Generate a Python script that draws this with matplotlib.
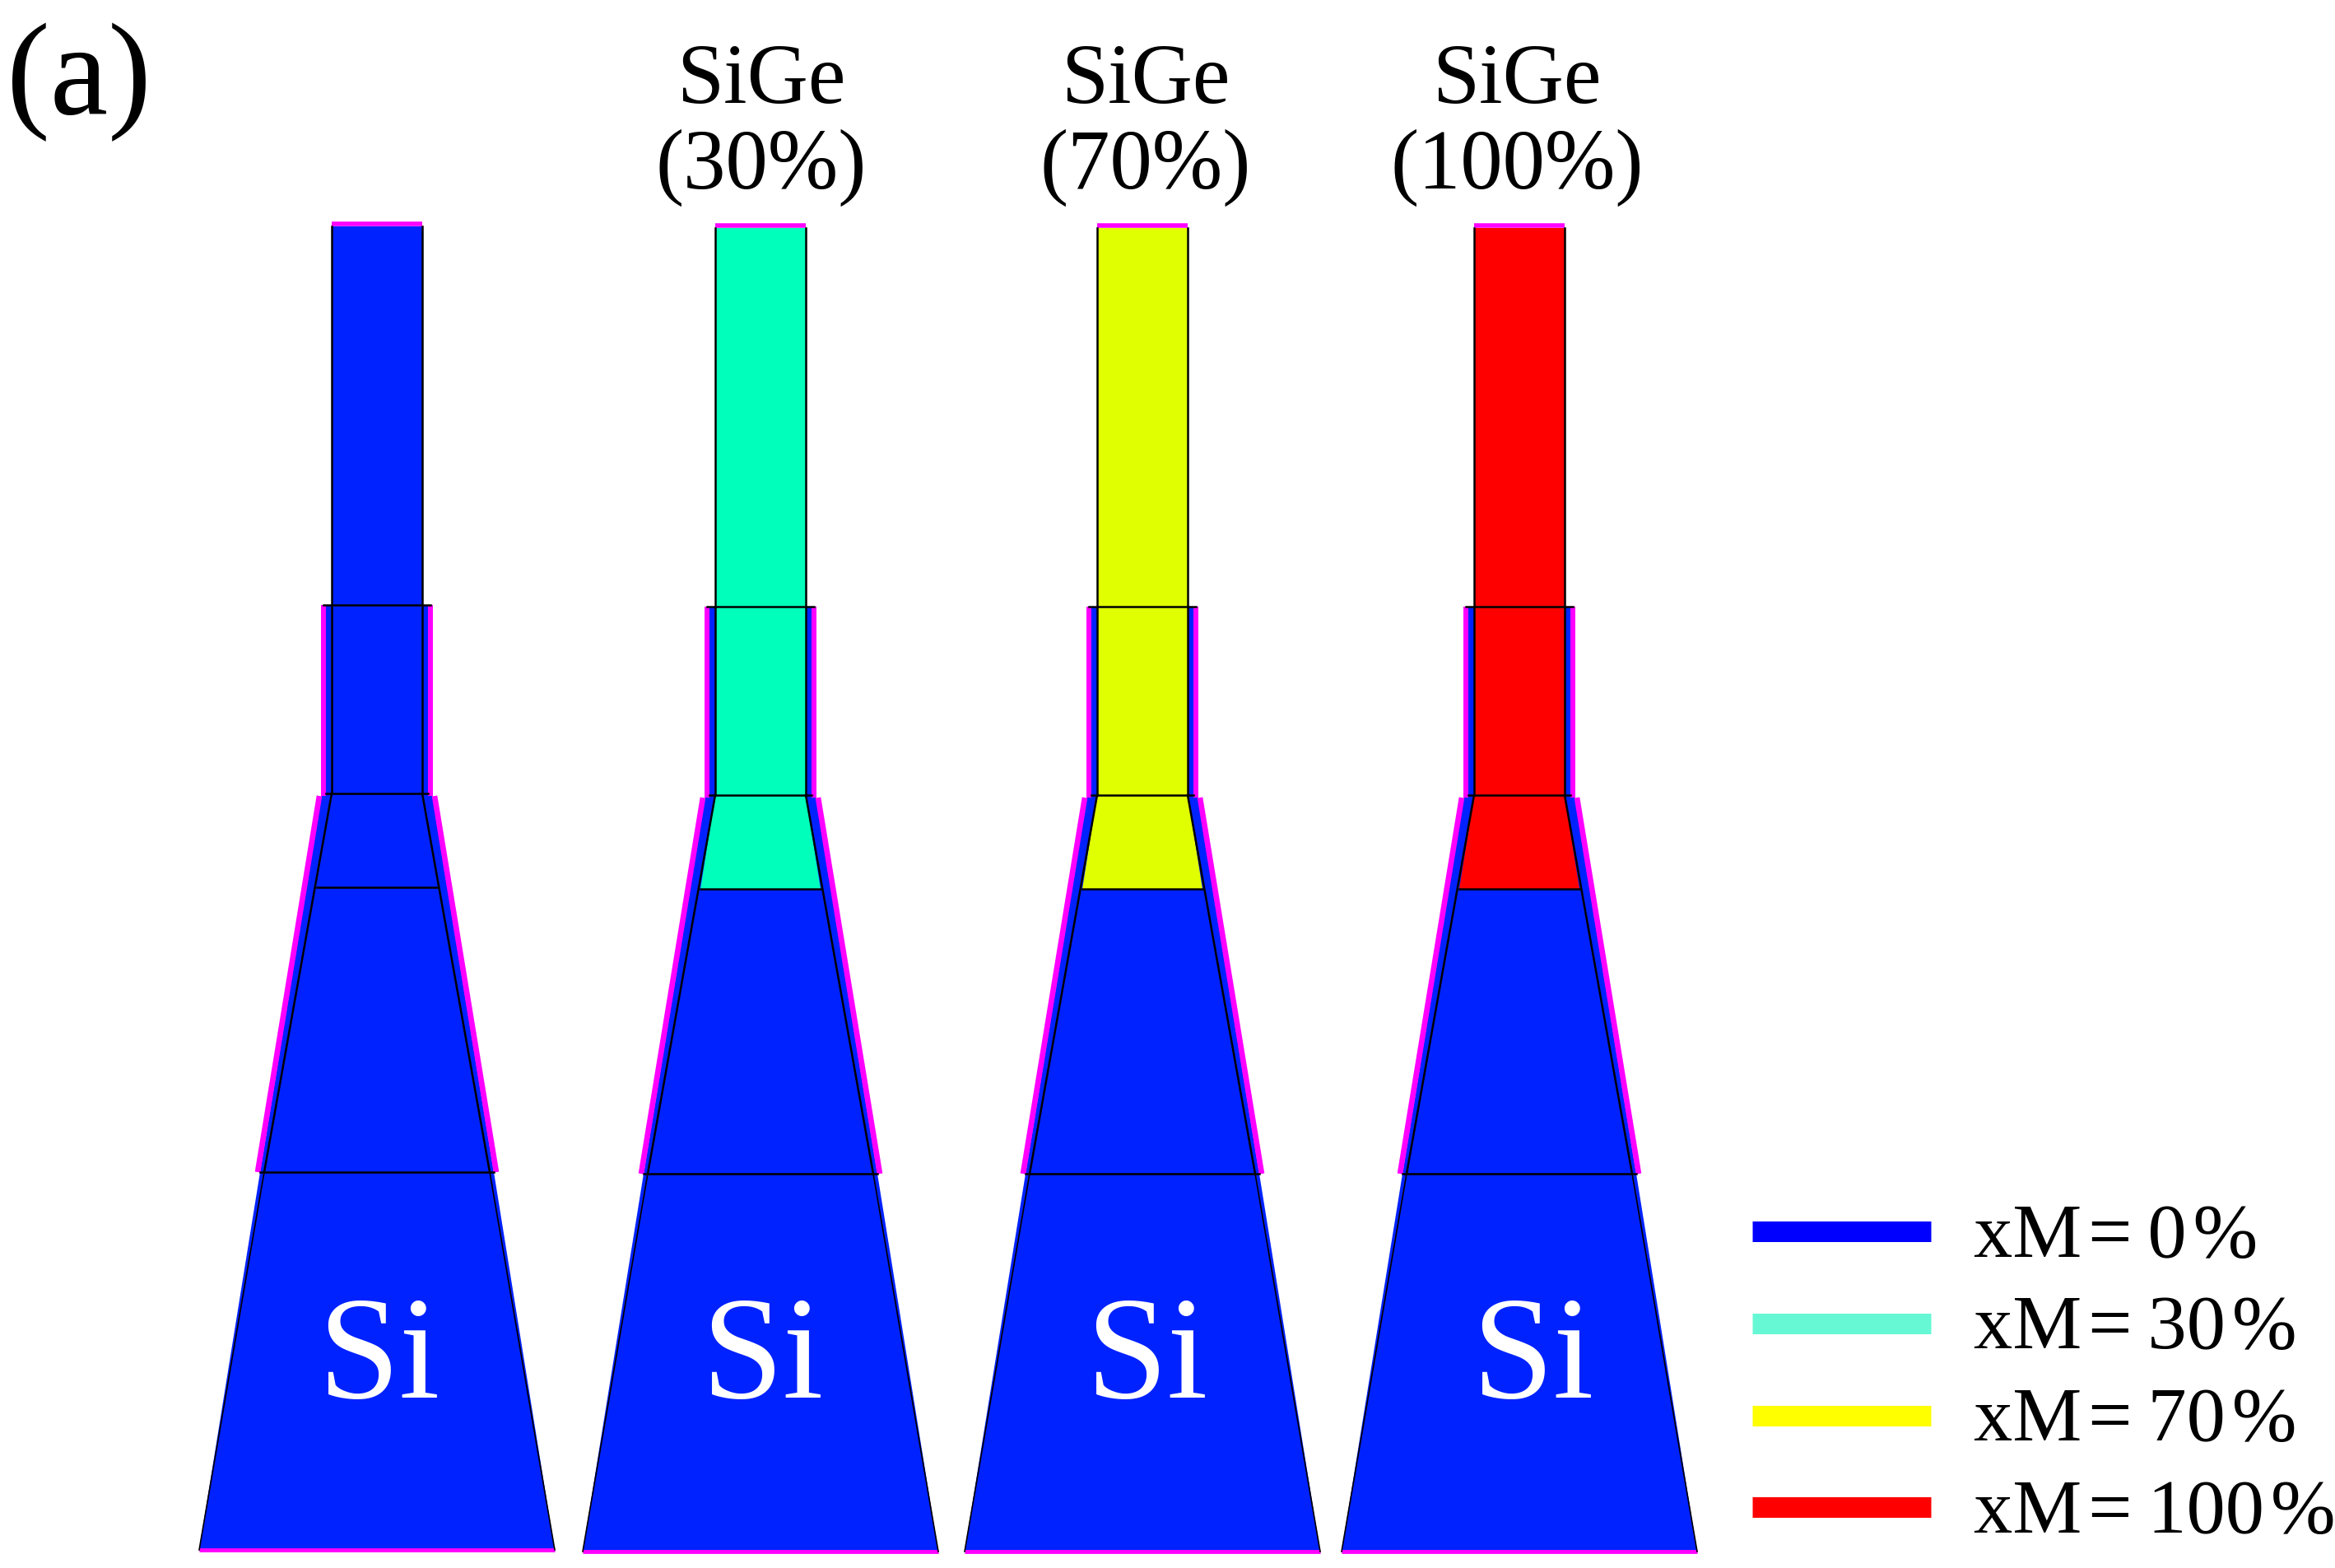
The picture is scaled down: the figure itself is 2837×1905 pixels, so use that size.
import matplotlib
matplotlib.use('Agg')
import matplotlib.pyplot as plt

plt.rcParams['font.family'] = ['Liberation Serif', 'DejaVu Sans']

# fins, left to right
fin_centers = [458, 924, 1388, 1846]
fin_shift = [0, 2, 2, 2]
fin_colors = ['#0022ff', '#00ffbb', '#e0ff00', '#ff0000']
fin_labels = ['', 'SiGe', 'SiGe', 'SiGe']
fin_sublabels = ['', '(30%)', '(70%)', '(100%)']
label_centers = [0, 925, 1392, 1843]
si_centers = [460, 926, 1393, 1862]

# heights of the layer boundaries
y_top = 276
y_step = 736
y_neck = 965
y_channel_end = 1079
y_base_top = 1425
y_bottom = 1884

# half widths of the layers
hw_pillar = 55
hw_spacer = 62
hw_magenta = 65
hw_neck_out = 70
hw_base_out = 145
hw_channel_end = 73
hw_base_top = 137
hw_bottom = 216

BLUE = '#0022ff'
MAGENTA = '#ff00ff'

# legend
legend_labels = ['xM\u200a=\u20090\u200a%', 'xM\u200a=\u200930\u200a%',
                 'xM\u200a=\u200970\u200a%', 'xM\u200a=\u2009100\u200a%']
legend_colors = ['#0000ff', '#66f8d4', '#ffff00', '#ff0000']
legend_y = [1497, 1609, 1721, 1832]
legend_base = [1527, 1638, 1750, 1862]

fig = plt.figure(figsize=(28.37, 19.06), dpi=100)
ax = fig.add_axes([0, 0, 1, 1])
ax.set_xlim(0, 2837)
ax.set_ylim(1906, 0)
ax.axis('off')


def sym(c, dy, rows):
    # closed polygon from (y, half width) rows
    xs = [c - w for y, w in rows] + [c + w for y, w in rows[::-1]]
    ys = [y + dy for y, w in rows] + [y + dy for y, w in rows[::-1]]
    return xs, ys


for c, dy, col, lab, sub, lc, sc in zip(fin_centers, fin_shift, fin_colors, fin_labels,
                                        fin_sublabels, label_centers, si_centers):
    # blue body
    xs, ys = sym(c, dy, [(y_step, hw_spacer), (y_neck, hw_spacer),
                         (y_neck, hw_neck_out - 3), (y_base_top, hw_base_out - 3),
                         (y_bottom, hw_bottom)])
    ax.fill(xs, ys, color=BLUE, lw=0, zorder=1)
    xs, ys = sym(c, dy, [(y_base_top, hw_base_top), (y_bottom, hw_bottom)])
    ax.fill(xs, ys, color=BLUE, lw=0, zorder=1)
    # coloured channel
    xs, ys = sym(c, dy, [(y_top, hw_pillar), (y_neck, hw_pillar),
                         (y_channel_end, hw_channel_end)])
    ax.fill(xs, ys, color=col, lw=0, zorder=2)

    # magenta shell
    for s in (-1, 1):
        ax.plot([c + s * hw_magenta, c + s * hw_magenta], [y_step + dy, y_neck + dy + 3],
                color=MAGENTA, lw=4.3, solid_capstyle='butt', zorder=3)
        ax.plot([c + s * hw_neck_out, c + s * hw_base_out], [y_neck + dy + 3, y_base_top + dy],
                color=MAGENTA, lw=4.8, solid_capstyle='butt', zorder=3)
    ax.plot([c - hw_pillar, c + hw_pillar], [y_top - 3 + dy, y_top - 3 + dy],
            color=MAGENTA, lw=4, solid_capstyle='butt', zorder=3)
    ax.plot([c - hw_bottom, c + hw_bottom], [y_bottom + dy, y_bottom + dy],
            color=MAGENTA, lw=3.5, solid_capstyle='butt', zorder=3)

    # black outlines
    for s in (-1, 1):
        ax.plot([c + s * hw_pillar] * 2, [y_top + dy, y_neck + dy], color='k', lw=1.8, zorder=4)
        ax.plot([c + s * hw_pillar, c + s * hw_base_top], [y_neck + dy, y_base_top + dy],
                color='k', lw=1.8, zorder=4)
        ax.plot([c + s * hw_base_top, c + s * hw_bottom], [y_base_top + dy, y_bottom + dy],
                color='k', lw=1.2, zorder=4)
    for y, w in [(y_step, hw_magenta), (y_neck, hw_spacer),
                 (y_channel_end, hw_channel_end), (y_base_top, hw_base_out - 3)]:
        ax.plot([c - w, c + w], [y + dy, y + dy], color='k', lw=1.8, zorder=4)

    ax.text(sc, 1698, 'Si', color='white', fontsize=128, ha='center', va='baseline', zorder=5)
    if lab:
        ax.text(lc, 125, lab, fontsize=74, ha='center', va='baseline')
        ax.text(lc, 229, sub, fontsize=74, ha='center', va='baseline')

ax.text(8, 138, '(a)', fontsize=114, ha='left', va='baseline')

for lab, col, y, base in zip(legend_labels, legend_colors, legend_y, legend_base):
    ax.plot([2129, 2346], [y, y], color=col, lw=18, solid_capstyle='butt')
    ax.text(2398, base, lab, fontsize=68, ha='left', va='baseline')

fig.savefig('out.png', dpi=100)
